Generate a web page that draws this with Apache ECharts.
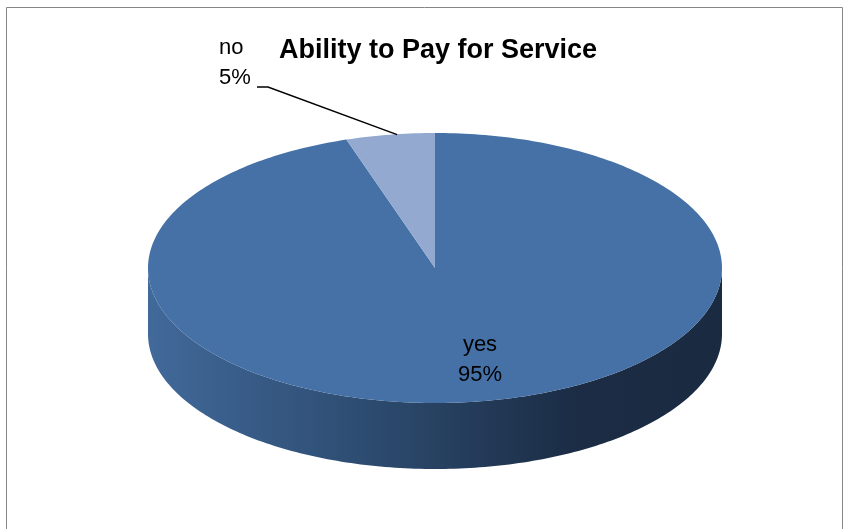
<!DOCTYPE html>
<html>
<head>
<meta charset="utf-8">
<script src="https://cdn.jsdelivr.net/npm/echarts@6/dist/echarts.min.js"></script>
<style>
html, body { margin: 0; padding: 0; background: #fff; }
#Echarts_Div { width: 850px; height: 529px; }
</style>
</head>
<body>
<div id="Echarts_Div"></div>
<script>
var categories = ['yes', 'no'];
var values = [95, 5];
var topColors = ['#4571A6', '#93A9CF'];

// 3d pie geometry
var cx = 435, cy = 268, rx = 287, ry = 135, depth = 66;
var labelPos = { yes: [480, 360], no: [219, 63] };

function pt(deg, dy) {
    var r = deg * Math.PI / 180;
    return [cx + rx * Math.sin(r), cy - ry * Math.cos(r) + (dy || 0)];
}
function arcPts(a1, a2, dy) {
    var pts = [];
    var n = Math.max(2, Math.ceil(Math.abs(a2 - a1)));
    for (var i = 0; i <= n; i++) {
        pts.push(pt(a1 + (a2 - a1) * i / n, dy));
    }
    return pts;
}

var total = 0;
var starts = [];
for (var i = 0; i < values.length; i++) {
    starts.push(total);
    total += values[i];
}
starts = starts.map(function (s) { return s / total * 360; });

function renderItem(params, api) {
    var i = params.dataIndex;
    var a1 = starts[i];
    var a2 = a1 + api.value(1) / total * 360;
    var children = [];
    // front wall
    var s = Math.max(a1, 90), e = Math.min(a2, 270);
    if (e > s) {
        children.push({
            type: 'polygon',
            shape: { points: arcPts(s, e, 0).concat(arcPts(e, s, depth)) },
            style: {
                fill: new echarts.graphic.LinearGradient(1, 0, 0, 0, [
                    { offset: 0, color: '#1A2A41' },
                    { offset: 0.25, color: '#1B2C44' },
                    { offset: 0.6, color: '#2C4A6E' },
                    { offset: 1, color: '#41699A' }
                ])
            }
        });
    }
    // top face
    children.push({
        type: 'polygon',
        shape: { points: [[cx, cy]].concat(arcPts(a1, a2, 0)) },
        style: { fill: topColors[i] }
    });
    var name = categories[i];
    var pct = Math.round(api.value(1) / total * 100) + '%';
    var lp = labelPos[name];
    children.push({
        type: 'text',
        x: lp[0], y: lp[1],
        style: {
            text: name + '\n' + pct,
            fill: '#000',
            font: '22px "Liberation Sans", Arial, sans-serif',
            align: name == 'no' ? 'left' : 'center',
            verticalAlign: 'middle',
            lineHeight: 30
        }
    });
    if (name == 'no') {
        var mid = pt((a1 + a2) / 2, 0);
        children.push({
            type: 'polyline',
            shape: { points: [[257, 87], [268, 87], [mid[0] + 7, mid[1]]] },
            style: { stroke: '#000', lineWidth: 1.5, fill: null }
        });
    }
    return { type: 'group', children: children };
}

function drawPie() {
    var myChart = echarts.init(document.getElementById('Echarts_Div'));
    var option = {
        animation: false,
        title: {
            text: 'Ability to Pay for Service',
            left: 274,
            top: 32,
            textStyle: {
                fontFamily: 'Liberation Sans',
                fontSize: 27,
                fontWeight: 'bold',
                color: '#000'
            }
        },
        graphic: [{
            type: 'rect',
            shape: { x: 6.5, y: 7.5, width: 836, height: 540 },
            style: { fill: null, stroke: '#868686', lineWidth: 1 },
            z: -1
        }],
        series: [{
            type: 'custom',
            coordinateSystem: 'none',
            renderItem: renderItem,
            data: categories.map(function (c, i) {
                return { name: c, value: [i, values[i]] };
            })
        }]
    };
    myChart.setOption(option);
}
window.onload = drawPie;
</script>
</body>
</html>
